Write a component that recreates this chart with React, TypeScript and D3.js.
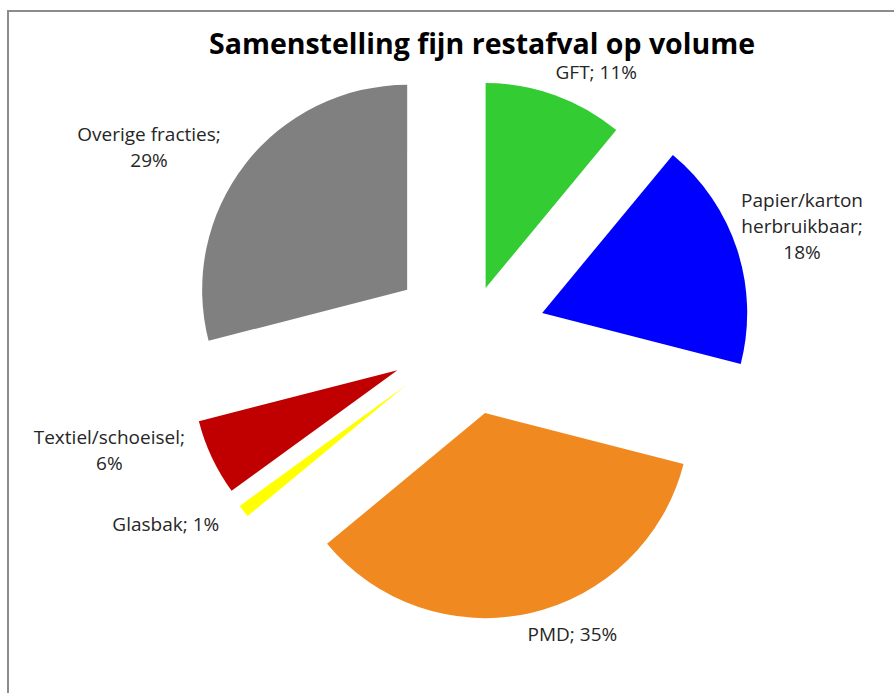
import { useEffect, useRef } from 'react'
import * as d3 from 'd3'

const categories = ['GFT', 'Papier/karton herbruikbaar', 'PMD', 'Glasbak', 'Textiel/schoeisel', 'Overige fracties']
const values = [11, 18, 35, 1, 6, 29]
const labelLines = [
    ['GFT; 11%'],
    ['Papier/karton', 'herbruikbaar;', '18%'],
    ['PMD; 35%'],
    ['Glasbak; 1%'],
    ['Textiel/schoeisel;', '6%'],
    ['Overige fracties;', '29%'],
]

const colors = ['#33cc33', '#0000ff', '#f08a20', '#ffff00', '#c00000', '#808080']
// how far each slice is pulled out of the pie (px)
const explode = [52, 78, 78, 79, 78, 77]
// small manual nudges of the data labels, like Excel's best fit (px)
const labelNudge = [[0, -1], [-10, -16], [0, 0], [0, 0], [0, -16], [0, -3]]

const W = 894
const H = 693

export default function App() {
    const ref = useRef<SVGSVGElement>(null)

    useEffect(() => {
        draw()
    })

    const draw = () => {
        const svg = d3.select(ref.current)
        svg.selectAll('*').remove()

        const cx = 468
        const cy = 337
        const radius = 205
        const labelR = radius + 22
        const lineH = 26
        const font = '"Open Sans", Lato, sans-serif'

        // chart frame
        svg.append('rect')
            .attr('x', 8)
            .attr('y', 11)
            .attr('width', W + 20)
            .attr('height', H + 20)
            .attr('fill', 'none')
            .attr('stroke', '#8c8c8c')
            .attr('stroke-width', 2)

        svg.append('text')
            .attr('x', 482)
            .attr('y', 54)
            .attr('text-anchor', 'middle')
            .attr('font-family', font)
            .attr('font-weight', 'bold')
            .attr('font-size', 28.5)
            .attr('fill', '#000')
            .text('Samenstelling fijn restafval op volume')

        const pie = d3.pie<number>().sort(null).startAngle(0).endAngle(2 * Math.PI)
        const arcs = pie(values)
        const arc = d3.arc<d3.PieArcDatum<number>>().innerRadius(0).outerRadius(radius)

        const g = svg.append('g').attr('transform', `translate(${cx},${cy})`)

        const slices = g.selectAll('g.slice')
            .data(arcs)
            .enter()
            .append('g')
            .attr('class', 'slice')
            .attr('transform', (d, i) => {
                const mid = (d.startAngle + d.endAngle) / 2
                return `translate(${explode[i] * Math.sin(mid)},${-explode[i] * Math.cos(mid)})`
            })

        slices.append('path')
            .attr('d', arc)
            .attr('fill', (d, i) => colors[i])
            .append('title')
            .text((d, i) => categories[i])

        // data labels, outside end
        slices.each(function (d, i) {
            const mid = (d.startAngle + d.endAngle) / 2
            const sx = Math.sin(mid)
            const lx = labelR * sx - 7 + labelNudge[i][0]
            const ly = -labelR * Math.cos(mid) + labelNudge[i][1]
            const lines = labelLines[i]
            const t = d3.select(this).append('text')
                .attr('x', lx)
                .attr('y', ly - ((lines.length - 1) * lineH) / 2 + 6)
                .attr('text-anchor', sx >= 0 ? 'start' : 'end')
                .attr('font-family', font)
                .attr('font-size', 19)
                .attr('fill', '#262626')
            lines.forEach((line, k) => {
                t.append('tspan')
                    .attr('x', lx)
                    .attr('dy', k === 0 ? 0 : lineH)
                    .text(line)
            })
            if (lines.length > 1) {
                // center multi-line labels on their widest line
                const node = t.node() as SVGTextElement
                const bb = node.getBBox()
                const shift = sx >= 0 ? bb.width / 2 : -bb.width / 2
                t.selectAll('tspan').attr('x', lx + shift)
                t.attr('text-anchor', 'middle')
            }
        })
    }

    return (
        <svg
            ref={ref}
            width={W}
            height={H}
            style={{ position: 'absolute', left: 0, top: 0, background: '#fff' }}
        />
    )
}
